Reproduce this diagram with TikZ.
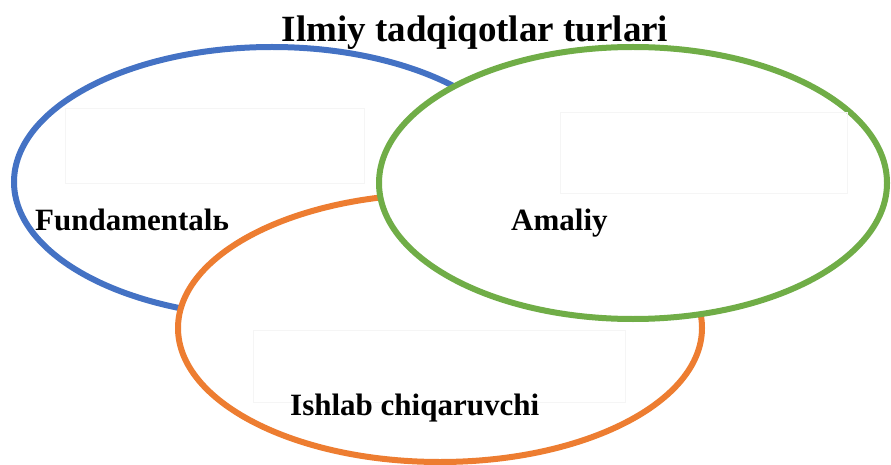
\documentclass[tikz,border=0pt]{standalone}
\usepackage{fontspec}
\setmainfont{Liberation Serif}
\usepackage{tikz}

\tikzset{
  ring/.style={line width=6pt, fill=white},
  label/.style={font=\fontsize{31}{36}\selectfont\bfseries, anchor=base west, inner sep=0pt},
  ghost/.style={draw=black!4, line width=0.8pt}
}

\definecolor{fundblue}{HTML}{4472C4}
\definecolor{ishorange}{HTML}{ED7D31}
\definecolor{amalgreen}{HTML}{70AD47}

\begin{document}
\begin{tikzpicture}[x=1pt,y=-1pt]
        \useasboundingbox (0,0) rectangle (891,465);

        % fundamental
        \draw[ring, draw=fundblue] (272,182) ellipse [x radius=258pt, y radius=135pt];
        \draw[ghost] (65,108) rectangle (364,183);

        % ishlab chiqaruvchi
        \draw[ring, draw=ishorange] (440,328) ellipse [x radius=262pt, y radius=134pt];
        \draw[ghost] (253,330) rectangle (625,402);

        % amaliy
        \draw[ring, draw=amalgreen] (633,183) ellipse [x radius=254pt, y radius=136pt];
        \draw[ghost] (560,112) rectangle (847,193);

        % title
        \node[font=\fontsize{37}{44}\selectfont\bfseries, anchor=base, inner sep=0pt] (title) at (475,42) {Ilmiy tadqiqotlar turlari};

        % labels
        \node[label] (fund) at (35,230) {Fundamentalь};
        \node[label] (amal) at (511,230) {Amaliy};
        \node[label] (ishlab) at (290,415) {Ishlab chiqaruvchi};
    \end{tikzpicture}
\end{document}
